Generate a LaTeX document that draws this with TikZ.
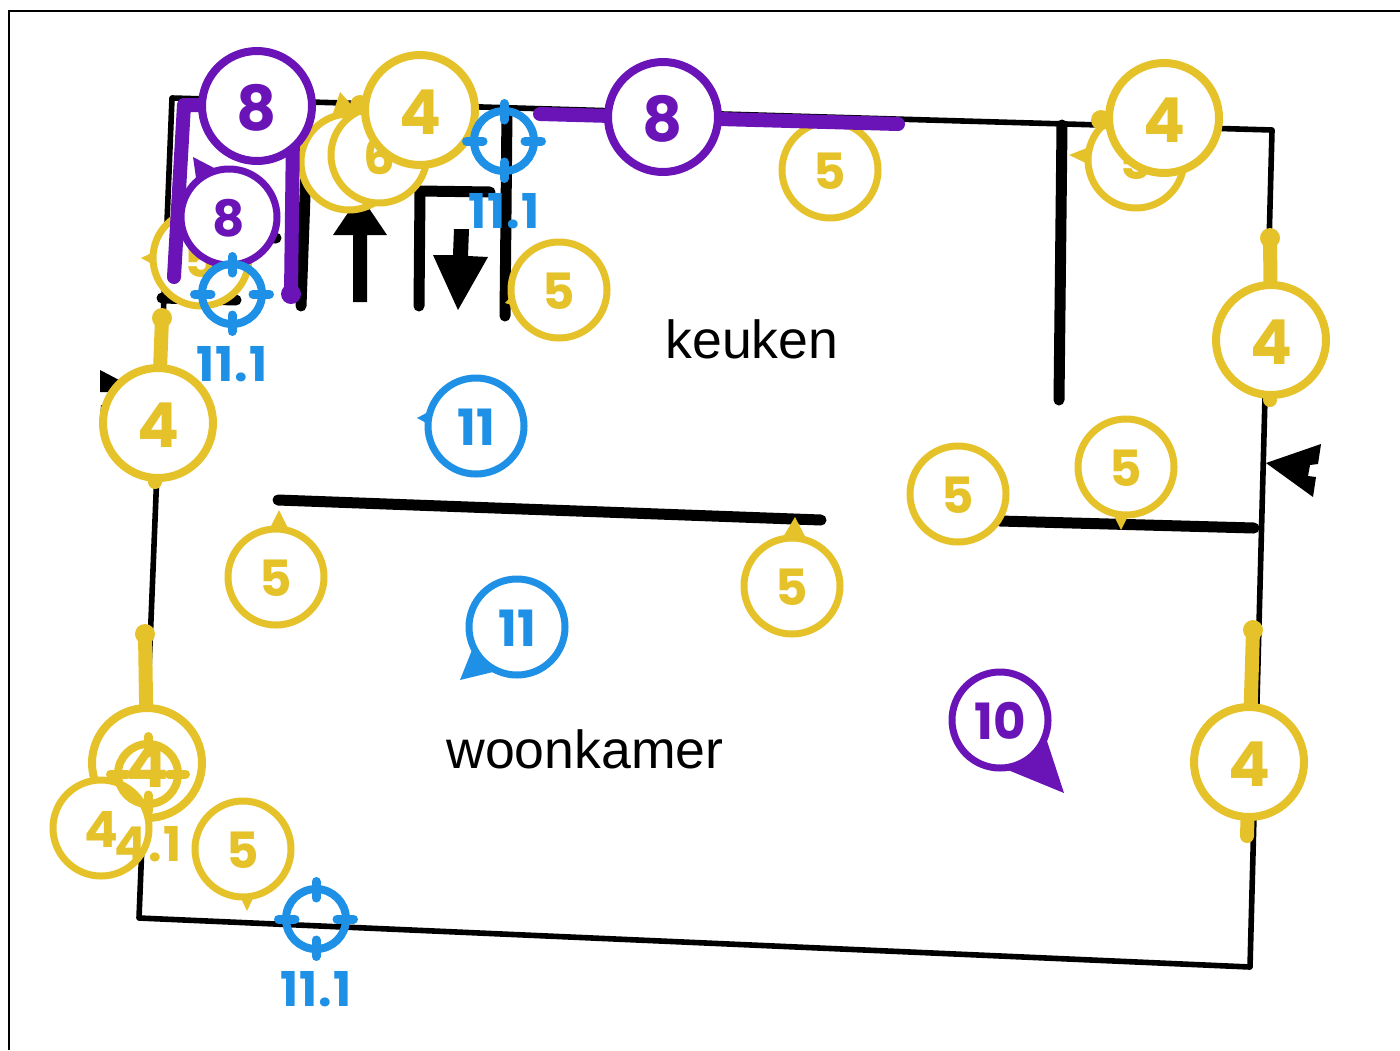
\documentclass[tikz,border=0pt]{standalone}
\usepackage{fontspec}
\setmainfont{Liberation Sans}
\newfontfamily\markfont{Poppins}[BoldFont=* Bold]
\newfontfamily\labelfont{Poppins}[BoldFont=* Bold,LetterSpace=3]
\usetikzlibrary{positioning}
\definecolor{markyellow}{HTML}{E5C229}
\definecolor{markpurple}{HTML}{6A14B8}
\definecolor{markblue}{HTML}{1E90E6}
\tikzstyle{frameline} = [line width=1pt]
\tikzstyle{outerwall} = [line width=2.8pt,line join=round]
\tikzstyle{innerwall} = [line width=5.5pt,line cap=round,line join=round]
\tikzstyle{bigmark} = [circle,draw,fill=white,line width=4pt,minimum size=55pt,inner sep=0pt,text height=24pt,text depth=0pt,font=\markfont\bfseries\fontsize{31}{31}\selectfont]
\tikzstyle{smallmark} = [circle,draw,fill=white,line width=3.5pt,minimum size=48pt,inner sep=0pt,text height=19.5pt,text depth=0pt,font=\markfont\bfseries\fontsize{25}{25}\selectfont]
\tikzstyle{targetring} = [circle,draw,line width=4pt,minimum size=30pt,inner sep=0pt]
\tikzstyle{targettick} = [line width=4.5pt,line cap=round]
\tikzstyle{targetlabel} = [inner sep=0pt,font=\labelfont\bfseries\fontsize{24}{24}\selectfont]
\tikzstyle{stem} = [line width=7pt,line cap=round,line join=round]
\tikzstyle{roomlabel} = [inner sep=0pt,font=\fontsize{26.8}{26.8}\selectfont]
\newcommand{\targetmark}[4]{
	\node [targetring,draw=#1] (#2) at (#3) {};
	\foreach \a in {0,90,180,270}
		\draw[targettick,draw=#1] ([shift={(\a:10.5pt)}]#2.center) -- ([shift={(\a:18.75pt)}]#2.center);
	\node [targetlabel,text=#1] (#2label) at ([yshift=-35pt]#2.center) {#4};
}
\begin{document}
\begin{tikzpicture}[x=0.5pt,y=-0.5pt]
	\useasboundingbox (0,0) rectangle (1400,1050);
	%Frame
	\draw[frameline] (9,1050) -- (9,11) -- (1400,11);

	%Walls
	\draw[outerwall] (172,98) -- (1272,130) -- (1250,967) -- (139,918) -- cycle;
	\draw[innerwall] (1062,125) -- (1059,400);
	\draw[innerwall] (278,500) -- (821,520);
	\draw[innerwall] (1000,521) -- (1254,528);
	\draw[innerwall] (307,140) -- (301,306);
	\draw[innerwall] (419,306) -- (420,191) -- (490,192);
	\draw[innerwall] (507,110) -- (505,316);
	\draw[innerwall] (162,298) -- (236,300);
	\draw[innerwall] (200,236) -- (276,238);

	%Arrows
	\fill (353,302) -- (353,235) -- (333,235) -- (360,195) -- (387,235) -- (367,235) -- (367,302) -- cycle;
	\fill (454,229) -- (469,229) -- (468,256) -- (488,257) -- (458,310) -- (433,255) -- (453,255) -- cycle;
	\fill (1266,463) -- (1321,444) -- (1318,464) -- (1310,465) -- (1308,476) -- (1316,477) -- (1313,497) -- cycle;
	\fill (100,370) -- (142,392) -- (100,420) -- (101,405) -- (109,405) -- (109,392) -- (100,392) -- cycle;

	%Room names
	\node [roomlabel] (keuken) at (752,339) {keuken};
	\node [roomlabel] (woonkamer) at (585,749) {woonkamer};

	%Yellow marks
	\fill[markyellow] (279,510) -- (268,532) -- (290,532) -- cycle;
	\node [smallmark,draw=markyellow,text=markyellow] (m5a) at (276,577) {5};
	\fill[markyellow] (795,517) -- (780,542) -- (808,542) -- cycle;
	\node [smallmark,draw=markyellow,text=markyellow] (m5b) at (792,586) {5};
	\node [smallmark,draw=markyellow,text=markyellow] (m5c) at (830,170) {5};
	\fill[markyellow] (505,303) -- (515,292) -- (515,306) -- cycle;
	\node [smallmark,draw=markyellow,text=markyellow] (m5d) at (559,290) {5};
	\node [smallmark,draw=markyellow,text=markyellow] (m5e) at (958,494) {5};
	\fill[markyellow] (1121,530) -- (1112,512) -- (1130,512) -- cycle;
	\node [smallmark,draw=markyellow,text=markyellow] (m5f) at (1126,467) {5};
	\fill[markyellow] (247,911) -- (238,892) -- (256,892) -- cycle;
	\node [smallmark,draw=markyellow,text=markyellow] (m5g) at (243,849) {5};
	\fill[markyellow] (1069,155) -- (1092,146) -- (1092,166) -- cycle;
	\node [smallmark,draw=markyellow,text=markyellow] (m5h) at (1136,160) {5};
	\fill[markyellow] (141,258) -- (158,250) -- (158,267) -- cycle;
	\node [smallmark,draw=markyellow,text=markyellow] (m5i) at (201,258) {5};
	\fill[markyellow] (340,92) -- (332,116) -- (358,112) -- cycle;
	\node [smallmark,draw=markyellow] (m5j) at (349,162) {};
	\node [smallmark,draw=markyellow,text=markyellow] (m6) at (379,155) {6};

	\coordinate (dota) at (162,318);
	\coordinate (dotb) at (1270,238);
	\coordinate (dotc) at (1253,630);
	\coordinate (dotd) at (145,634);
	\coordinate (dote) at (1101,120);
	\coordinate (dotf) at (360,105);
	\coordinate (nuba) at (155,482);
	\coordinate (nubb) at (1270,400);
	\coordinate (nubc) at (1247,836);
	\foreach \d in {dota,dotb,dotc,dotd,dote,dotf}
		\fill[markyellow] (\d) circle (5pt);
	\fill[markyellow] (nuba) circle (3.5pt);
	\fill[markyellow] (nubb) circle (3.5pt);
	\draw[stem,markyellow] (dota) -- (158,423);
	\draw[stem,markyellow] (dotb) -- (1271,340);
	\draw[stem,markyellow] (dotc) -- (1249,762) -- (nubc);
	\draw[stem,markyellow] (dotd) -- (147,763);
	\draw[stem,markyellow] (dote) -- (1164,118);
	\draw[stem,markyellow] (dotf) -- (420,110);
	\node [bigmark,draw=markyellow,text=markyellow] (m4a) at (158,423) {4};
	\node [bigmark,draw=markyellow,text=markyellow] (m4b) at (1271,340) {4};
	\node [bigmark,draw=markyellow,text=markyellow] (m4c) at (1249,762) {4};
	\node [bigmark,draw=markyellow,text=markyellow] (m4d) at (147,763) {4};
	\node [bigmark,draw=markyellow,text=markyellow] (m4e) at (1164,118) {4};
	\node [bigmark,draw=markyellow,text=markyellow] (m4f) at (420,110) {4};
	\node [smallmark,draw=markyellow,text=markyellow] (m4g) at (101,828) {4};

	%Blue marks
	\fill[markblue] (417,418) -- (432,410) -- (432,426) -- cycle;
	\node [smallmark,draw=markblue,text=markblue] (m11a) at (476,426) {11};
	\fill[markblue] (460,680) -- (472,650) -- (493,672) -- cycle;
	\node [smallmark,draw=markblue,text=markblue] (m11b) at (517,627) {11};

	%Purple marks
	\fill[markpurple] (1064,793) -- (1046,738) -- (1008,770) -- cycle;
	\node [smallmark,draw=markpurple,text=markpurple] (m10) at (1000,720) {10};
	\coordinate (lineaend) at (174,277);
	\coordinate (linebend) at (291,294);
	\coordinate (linecstart) at (540,114);
	\coordinate (linecend) at (898,124);
	\fill[markpurple] (linebend) circle (5pt);
	\draw[stem,markpurple] (lineaend) -- (184,105) -- (257,106);
	\draw[stem,markpurple] (257,106) -- (293,130) -- (linebend);
	\draw[stem,markpurple] (linecstart) -- (linecend);
	\fill[markpurple] (193,157) -- (197,185) -- (218,170) -- cycle;
	\node [bigmark,draw=markpurple,text=markpurple] (m8a) at (257,106) {8};
	\node [bigmark,draw=markpurple,text=markpurple] (m8b) at (663,117) {8};
	\node [smallmark,draw=markpurple,text=markpurple] (m8c) at (229,217) {8};

	%Targets
	\targetmark{markblue}{ta}{504,141}{11.1}
	\targetmark{markblue}{tb}{232,294}{11.1}
	\targetmark{markblue}{tc}{316,919}{11.1}
	\targetmark{markyellow}{td}{148,774}{4.1}
\end{tikzpicture}
\end{document}
